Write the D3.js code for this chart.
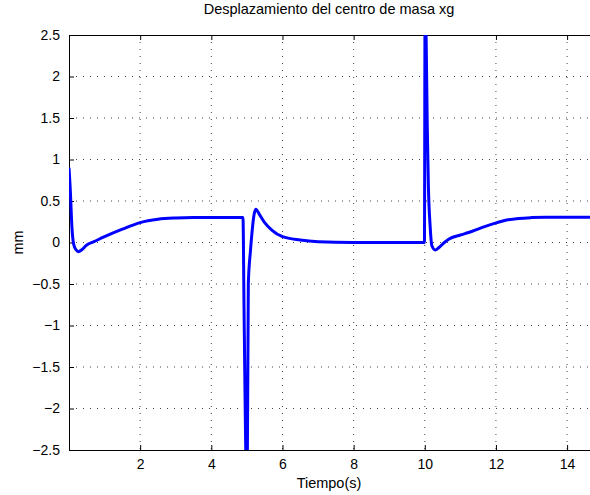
<!DOCTYPE html>
<html>
<head>
<meta charset="utf-8">
<script src="https://cdn.jsdelivr.net/npm/d3@7"></script>
<style>
  body { margin: 0; background: #fff; }
  text { font-family: "Liberation Sans", Arial, sans-serif; }
</style>
</head>
<body>
<div id="chart"></div>
<script>
// time (s) and centre of mass displacement (mm)
var tiempo = [0, 0.04, 0.08, 0.13, 0.2, 0.27, 0.35, 0.5, 0.7, 1.0, 1.5, 2.0, 2.5, 3.0, 3.5, 4.0, 4.5, 4.89,
              4.92, 4.99, 5.01, 5.04, 5.1, 5.15, 5.2, 5.25, 5.35, 5.5, 5.7, 6.0, 6.5, 7.0, 8.0, 9.0, 9.99,
              10.01, 10.04, 10.07, 10.1, 10.15, 10.2, 10.29, 10.4, 10.55, 10.67, 11.0, 11.23, 11.6, 12.03,
              12.3, 12.64, 13.0, 13.4, 14.0, 14.7];
var xg = [0.9, 0.6, 0.2, -0.02, -0.09, -0.11, -0.09, -0.03, 0.01, 0.07, 0.16, 0.24, 0.28, 0.295, 0.3, 0.3, 0.3, 0.3,
          -0.8, -2.8, -2.8, -0.5, -0.1, 0.15, 0.33, 0.4, 0.34, 0.24, 0.15, 0.07, 0.03, 0.01, 0.0, 0.0, 0.0,
          3.2, 2.4, 1.4, 0.7, 0.2, -0.04, -0.09, -0.06, 0.0, 0.04, 0.09, 0.12, 0.18, 0.24,
          0.27, 0.29, 0.3, 0.305, 0.305, 0.305];
var xTicks = [2, 4, 6, 8, 10, 12, 14];
var yTicks = [-2.5, -2, -1.5, -1, -0.5, 0, 0.5, 1, 1.5, 2, 2.5];

var width = 590, height = 495;
var margin = {top: 35, right: -2, bottom: 45, left: 69};
var w = width - margin.left - margin.right,
    h = height - margin.top - margin.bottom;

var data = tiempo.map(function(t, i) { return {t: t, v: xg[i]}; });

var x = d3.scaleLinear().domain([0, 14.7]).range([0, w]);
var y = d3.scaleLinear().domain([-2.5, 2.5]).range([h, 0]);

var svg = d3.select("#chart").append("svg")
    .attr("width", width)
    .attr("height", height)
  .append("g")
    .attr("transform", "translate(" + margin.left + "," + margin.top + ")");

svg.append("defs").append("clipPath").attr("id", "clip")
  .append("rect").attr("width", w).attr("height", h);

// dotted grid
svg.append("g").selectAll("line.gx")
    .data(xTicks)
  .enter().append("line")
    .attr("x1", function(d) { return x(d); })
    .attr("x2", function(d) { return x(d); })
    .attr("y1", 0).attr("y2", h)
    .attr("stroke", "#444").attr("stroke-width", 1)
    .attr("stroke-dasharray", "1,6");
svg.append("g").selectAll("line.gy")
    .data(yTicks.slice(1, -1))
  .enter().append("line")
    .attr("y1", function(d) { return y(d); })
    .attr("y2", function(d) { return y(d); })
    .attr("x1", 0).attr("x2", w)
    .attr("stroke", "#444").attr("stroke-width", 1)
    .attr("stroke-dasharray", "1,6");

// axes, ticks pointing inwards like matlab
svg.append("g")
    .attr("transform", "translate(0," + h + ")")
    .call(d3.axisBottom(x).tickValues(xTicks).tickSizeInner(-5).tickSizeOuter(0).tickPadding(9).tickFormat(d3.format("d")));
svg.append("g")
    .call(d3.axisTop(x).tickValues(xTicks).tickSizeInner(-5).tickSizeOuter(0).tickFormat(""));
svg.append("g")
    .call(d3.axisLeft(y).tickValues(yTicks).tickSizeInner(-5).tickSizeOuter(0).tickPadding(9).tickFormat(d3.format("")));

svg.selectAll(".tick text").attr("font-size", "14px").attr("fill", "#000")
    .style("font-family", "'Liberation Sans', Arial, sans-serif");
svg.selectAll(".domain").attr("stroke", "#000");

var line = d3.line()
    .x(function(d) { return x(d.t); })
    .y(function(d) { return y(d.v); })
    .curve(d3.curveMonotoneX);

svg.append("path")
    .datum(data)
    .attr("clip-path", "url(#clip)")
    .attr("fill", "none")
    .attr("stroke", "#0000ff")
    .attr("stroke-width", 3)
    .attr("stroke-linejoin", "round")
    .attr("d", line);

svg.append("text")
    .attr("x", 329 - margin.left)
    .attr("y", -21)
    .style("text-anchor", "middle")
    .attr("font-size", "14.5px")
    .text("Desplazamiento del centro de masa xg");

svg.append("text")
    .attr("x", 329 - margin.left)
    .attr("y", h + 38)
    .style("text-anchor", "middle")
    .attr("font-size", "14.5px")
    .text("Tiempo(s)");

svg.append("text")
    .attr("transform", "translate(" + (23 - margin.left) + "," + (h / 2) + ") rotate(-90)")
    .style("text-anchor", "middle")
    .attr("font-size", "14.5px")
    .text("mm");
</script>
</body>
</html>
